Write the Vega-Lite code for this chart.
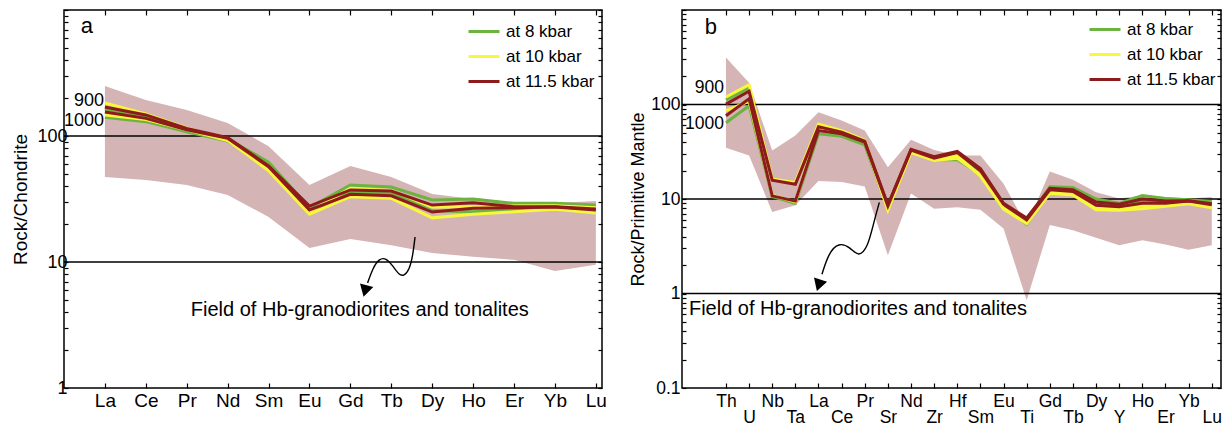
{
  "$schema": "https://vega.github.io/schema/vega-lite/v6.json",
  "padding": {"left": 11, "top": 0, "right": 0, "bottom": 0},
  "spacing": 21,
  "config": {
    "font": "Liberation Sans",
    "view": {"stroke": "#000", "strokeWidth": 1.5},
    "axis": {"domain": false, "grid": false, "labelColor": "#000", "tickColor": "#000", "tickWidth": 1.2, "labelFont": "Liberation Sans", "titleFont": "Liberation Sans", "titleFontWeight": "normal", "titleColor": "#000", "labelOverlap": false},
    "legend": {"labelFont": "Liberation Sans"}
  },
  "datasets": {
    "fieldA": [
      {"pos": 1, "el": "La", "lo": 47.3, "hi": 249},
      {"pos": 2, "el": "Ce", "lo": 44.7, "hi": 193},
      {"pos": 3, "el": "Pr", "lo": 40.8, "hi": 161},
      {"pos": 4, "el": "Nd", "lo": 34.0, "hi": 127},
      {"pos": 5, "el": "Sm", "lo": 22.8, "hi": 83},
      {"pos": 6, "el": "Eu", "lo": 12.9, "hi": 40.8},
      {"pos": 7, "el": "Gd", "lo": 15.2, "hi": 57.8},
      {"pos": 8, "el": "Tb", "lo": 13.6, "hi": 47.3},
      {"pos": 9, "el": "Dy", "lo": 11.8, "hi": 34.7},
      {"pos": 10, "el": "Ho", "lo": 11.0, "hi": 31.6},
      {"pos": 11, "el": "Er", "lo": 10.4, "hi": 29.4},
      {"pos": 12, "el": "Yb", "lo": 8.5, "hi": 29.4},
      {"pos": 13, "el": "Lu", "lo": 9.5, "hi": 30.5}
    ],
    "linesA": [
      {"pos": 1, "p": "at 8 kbar", "t": "900", "v": 164}, {"pos": 2, "p": "at 8 kbar", "t": "900", "v": 143}, {"pos": 3, "p": "at 8 kbar", "t": "900", "v": 113}, {"pos": 4, "p": "at 8 kbar", "t": "900", "v": 95}, {"pos": 5, "p": "at 8 kbar", "t": "900", "v": 62}, {"pos": 6, "p": "at 8 kbar", "t": "900", "v": 27}, {"pos": 7, "p": "at 8 kbar", "t": "900", "v": 40.8}, {"pos": 8, "p": "at 8 kbar", "t": "900", "v": 39.4}, {"pos": 9, "p": "at 8 kbar", "t": "900", "v": 31.1}, {"pos": 10, "p": "at 8 kbar", "t": "900", "v": 31.6}, {"pos": 11, "p": "at 8 kbar", "t": "900", "v": 29.2}, {"pos": 12, "p": "at 8 kbar", "t": "900", "v": 29.2}, {"pos": 13, "p": "at 8 kbar", "t": "900", "v": 28.3},
      {"pos": 1, "p": "at 8 kbar", "t": "1000", "v": 141}, {"pos": 2, "p": "at 8 kbar", "t": "1000", "v": 130}, {"pos": 3, "p": "at 8 kbar", "t": "1000", "v": 108}, {"pos": 4, "p": "at 8 kbar", "t": "1000", "v": 91}, {"pos": 5, "p": "at 8 kbar", "t": "1000", "v": 60}, {"pos": 6, "p": "at 8 kbar", "t": "1000", "v": 25}, {"pos": 7, "p": "at 8 kbar", "t": "1000", "v": 35.9}, {"pos": 8, "p": "at 8 kbar", "t": "1000", "v": 35.3}, {"pos": 9, "p": "at 8 kbar", "t": "1000", "v": 25.5}, {"pos": 10, "p": "at 8 kbar", "t": "1000", "v": 25.1}, {"pos": 11, "p": "at 8 kbar", "t": "1000", "v": 26}, {"pos": 12, "p": "at 8 kbar", "t": "1000", "v": 27}, {"pos": 13, "p": "at 8 kbar", "t": "1000", "v": 26.5},
      {"pos": 1, "p": "at 10 kbar", "t": "900", "v": 183}, {"pos": 2, "p": "at 10 kbar", "t": "900", "v": 150}, {"pos": 3, "p": "at 10 kbar", "t": "900", "v": 116}, {"pos": 4, "p": "at 10 kbar", "t": "900", "v": 93}, {"pos": 5, "p": "at 10 kbar", "t": "900", "v": 53}, {"pos": 6, "p": "at 10 kbar", "t": "900", "v": 24}, {"pos": 7, "p": "at 10 kbar", "t": "900", "v": 33}, {"pos": 8, "p": "at 10 kbar", "t": "900", "v": 32}, {"pos": 9, "p": "at 10 kbar", "t": "900", "v": 22.4}, {"pos": 10, "p": "at 10 kbar", "t": "900", "v": 23.9}, {"pos": 11, "p": "at 10 kbar", "t": "900", "v": 25}, {"pos": 12, "p": "at 10 kbar", "t": "900", "v": 26.2}, {"pos": 13, "p": "at 10 kbar", "t": "900", "v": 24.5},
      {"pos": 1, "p": "at 10 kbar", "t": "1000", "v": 147}, {"pos": 2, "p": "at 10 kbar", "t": "1000", "v": 135}, {"pos": 3, "p": "at 10 kbar", "t": "1000", "v": 112}, {"pos": 4, "p": "at 10 kbar", "t": "1000", "v": 92}, {"pos": 5, "p": "at 10 kbar", "t": "1000", "v": 55}, {"pos": 6, "p": "at 10 kbar", "t": "1000", "v": 25}, {"pos": 7, "p": "at 10 kbar", "t": "1000", "v": 38.5}, {"pos": 8, "p": "at 10 kbar", "t": "1000", "v": 37}, {"pos": 9, "p": "at 10 kbar", "t": "1000", "v": 27.3}, {"pos": 10, "p": "at 10 kbar", "t": "1000", "v": 27.5}, {"pos": 11, "p": "at 10 kbar", "t": "1000", "v": 27.8}, {"pos": 12, "p": "at 10 kbar", "t": "1000", "v": 28}, {"pos": 13, "p": "at 10 kbar", "t": "1000", "v": 27},
      {"pos": 1, "p": "at 11.5 kbar", "t": "900", "v": 170}, {"pos": 2, "p": "at 11.5 kbar", "t": "900", "v": 147}, {"pos": 3, "p": "at 11.5 kbar", "t": "900", "v": 115}, {"pos": 4, "p": "at 11.5 kbar", "t": "900", "v": 97}, {"pos": 5, "p": "at 11.5 kbar", "t": "900", "v": 58}, {"pos": 6, "p": "at 11.5 kbar", "t": "900", "v": 27.8}, {"pos": 7, "p": "at 11.5 kbar", "t": "900", "v": 37.3}, {"pos": 8, "p": "at 11.5 kbar", "t": "900", "v": 36.6}, {"pos": 9, "p": "at 11.5 kbar", "t": "900", "v": 28.3}, {"pos": 10, "p": "at 11.5 kbar", "t": "900", "v": 29.5}, {"pos": 11, "p": "at 11.5 kbar", "t": "900", "v": 27.5}, {"pos": 12, "p": "at 11.5 kbar", "t": "900", "v": 27.5}, {"pos": 13, "p": "at 11.5 kbar", "t": "900", "v": 26.3},
      {"pos": 1, "p": "at 11.5 kbar", "t": "1000", "v": 155}, {"pos": 2, "p": "at 11.5 kbar", "t": "1000", "v": 138}, {"pos": 3, "p": "at 11.5 kbar", "t": "1000", "v": 112}, {"pos": 4, "p": "at 11.5 kbar", "t": "1000", "v": 96}, {"pos": 5, "p": "at 11.5 kbar", "t": "1000", "v": 57}, {"pos": 6, "p": "at 11.5 kbar", "t": "1000", "v": 25.9}, {"pos": 7, "p": "at 11.5 kbar", "t": "1000", "v": 34.5}, {"pos": 8, "p": "at 11.5 kbar", "t": "1000", "v": 33.5}, {"pos": 9, "p": "at 11.5 kbar", "t": "1000", "v": 24.9}, {"pos": 10, "p": "at 11.5 kbar", "t": "1000", "v": 26.7}, {"pos": 11, "p": "at 11.5 kbar", "t": "1000", "v": 27}, {"pos": 12, "p": "at 11.5 kbar", "t": "1000", "v": 27.3}, {"pos": 13, "p": "at 11.5 kbar", "t": "1000", "v": 25.9}
    ],
    "fieldB": [
      {"pos": 2, "el": "Th", "lo": 34.8, "hi": 315},
      {"pos": 3, "el": "U", "lo": 28.9, "hi": 170},
      {"pos": 4, "el": "Nb", "lo": 7.3, "hi": 32.6},
      {"pos": 5, "el": "Ta", "lo": 8.6, "hi": 47},
      {"pos": 6, "el": "La", "lo": 15.5, "hi": 82.8},
      {"pos": 7, "el": "Ce", "lo": 15.1, "hi": 67.6},
      {"pos": 8, "el": "Pr", "lo": 13.6, "hi": 53},
      {"pos": 9, "el": "Sr", "lo": 2.54, "hi": 21.7},
      {"pos": 10, "el": "Nd", "lo": 11.4, "hi": 42.3},
      {"pos": 11, "el": "Zr", "lo": 7.9, "hi": 33},
      {"pos": 12, "el": "Hf", "lo": 8.2, "hi": 28.9},
      {"pos": 13, "el": "Sm", "lo": 7.7, "hi": 28.9},
      {"pos": 14, "el": "Eu", "lo": 4.86, "hi": 14.5},
      {"pos": 15, "el": "Ti", "lo": 0.85, "hi": 5.2},
      {"pos": 16, "el": "Gd", "lo": 5.3, "hi": 19.6},
      {"pos": 17, "el": "Tb", "lo": 4.66, "hi": 16},
      {"pos": 18, "el": "Dy", "lo": 3.9, "hi": 11.8},
      {"pos": 19, "el": "Y", "lo": 3.24, "hi": 10.1},
      {"pos": 20, "el": "Ho", "lo": 3.65, "hi": 10.9},
      {"pos": 21, "el": "Er", "lo": 3.3, "hi": 10.5},
      {"pos": 22, "el": "Yb", "lo": 2.9, "hi": 10.1},
      {"pos": 23, "el": "Lu", "lo": 3.24, "hi": 10.5}
    ],
    "linesB": [
      {"pos": 2, "p": "at 8 kbar", "t": "900", "v": 112}, {"pos": 3, "p": "at 8 kbar", "t": "900", "v": 150}, {"pos": 4, "p": "at 8 kbar", "t": "900", "v": 16}, {"pos": 5, "p": "at 8 kbar", "t": "900", "v": 14.6}, {"pos": 6, "p": "at 8 kbar", "t": "900", "v": 55}, {"pos": 7, "p": "at 8 kbar", "t": "900", "v": 48}, {"pos": 8, "p": "at 8 kbar", "t": "900", "v": 39}, {"pos": 9, "p": "at 8 kbar", "t": "900", "v": 8.4}, {"pos": 10, "p": "at 8 kbar", "t": "900", "v": 33}, {"pos": 11, "p": "at 8 kbar", "t": "900", "v": 27}, {"pos": 12, "p": "at 8 kbar", "t": "900", "v": 30}, {"pos": 13, "p": "at 8 kbar", "t": "900", "v": 19}, {"pos": 14, "p": "at 8 kbar", "t": "900", "v": 8.4}, {"pos": 15, "p": "at 8 kbar", "t": "900", "v": 5.8}, {"pos": 16, "p": "at 8 kbar", "t": "900", "v": 13.5}, {"pos": 17, "p": "at 8 kbar", "t": "900", "v": 13.2}, {"pos": 18, "p": "at 8 kbar", "t": "900", "v": 10.0}, {"pos": 19, "p": "at 8 kbar", "t": "900", "v": 9.0}, {"pos": 20, "p": "at 8 kbar", "t": "900", "v": 10.9}, {"pos": 21, "p": "at 8 kbar", "t": "900", "v": 10.1}, {"pos": 22, "p": "at 8 kbar", "t": "900", "v": 9.8}, {"pos": 23, "p": "at 8 kbar", "t": "900", "v": 9.4},
      {"pos": 2, "p": "at 8 kbar", "t": "1000", "v": 64}, {"pos": 3, "p": "at 8 kbar", "t": "1000", "v": 97}, {"pos": 4, "p": "at 8 kbar", "t": "1000", "v": 10.6}, {"pos": 5, "p": "at 8 kbar", "t": "1000", "v": 9.0}, {"pos": 6, "p": "at 8 kbar", "t": "1000", "v": 49}, {"pos": 7, "p": "at 8 kbar", "t": "1000", "v": 46}, {"pos": 8, "p": "at 8 kbar", "t": "1000", "v": 37.5}, {"pos": 9, "p": "at 8 kbar", "t": "1000", "v": 8.0}, {"pos": 10, "p": "at 8 kbar", "t": "1000", "v": 32}, {"pos": 11, "p": "at 8 kbar", "t": "1000", "v": 26}, {"pos": 12, "p": "at 8 kbar", "t": "1000", "v": 26}, {"pos": 13, "p": "at 8 kbar", "t": "1000", "v": 18.5}, {"pos": 14, "p": "at 8 kbar", "t": "1000", "v": 8.5}, {"pos": 15, "p": "at 8 kbar", "t": "1000", "v": 5.4}, {"pos": 16, "p": "at 8 kbar", "t": "1000", "v": 13}, {"pos": 17, "p": "at 8 kbar", "t": "1000", "v": 12.5}, {"pos": 18, "p": "at 8 kbar", "t": "1000", "v": 9.2}, {"pos": 19, "p": "at 8 kbar", "t": "1000", "v": 8.5}, {"pos": 20, "p": "at 8 kbar", "t": "1000", "v": 9.5}, {"pos": 21, "p": "at 8 kbar", "t": "1000", "v": 9.5}, {"pos": 22, "p": "at 8 kbar", "t": "1000", "v": 9.5}, {"pos": 23, "p": "at 8 kbar", "t": "1000", "v": 9.0},
      {"pos": 2, "p": "at 10 kbar", "t": "900", "v": 120}, {"pos": 3, "p": "at 10 kbar", "t": "900", "v": 162}, {"pos": 4, "p": "at 10 kbar", "t": "900", "v": 16.3}, {"pos": 5, "p": "at 10 kbar", "t": "900", "v": 15}, {"pos": 6, "p": "at 10 kbar", "t": "900", "v": 62}, {"pos": 7, "p": "at 10 kbar", "t": "900", "v": 53}, {"pos": 8, "p": "at 10 kbar", "t": "900", "v": 42}, {"pos": 9, "p": "at 10 kbar", "t": "900", "v": 7.8}, {"pos": 10, "p": "at 10 kbar", "t": "900", "v": 32}, {"pos": 11, "p": "at 10 kbar", "t": "900", "v": 26}, {"pos": 12, "p": "at 10 kbar", "t": "900", "v": 29}, {"pos": 13, "p": "at 10 kbar", "t": "900", "v": 17.5}, {"pos": 14, "p": "at 10 kbar", "t": "900", "v": 7.8}, {"pos": 15, "p": "at 10 kbar", "t": "900", "v": 5.5}, {"pos": 16, "p": "at 10 kbar", "t": "900", "v": 11.5}, {"pos": 17, "p": "at 10 kbar", "t": "900", "v": 11}, {"pos": 18, "p": "at 10 kbar", "t": "900", "v": 7.7}, {"pos": 19, "p": "at 10 kbar", "t": "900", "v": 7.6}, {"pos": 20, "p": "at 10 kbar", "t": "900", "v": 7.9}, {"pos": 21, "p": "at 10 kbar", "t": "900", "v": 8.4}, {"pos": 22, "p": "at 10 kbar", "t": "900", "v": 8.9}, {"pos": 23, "p": "at 10 kbar", "t": "900", "v": 8.1},
      {"pos": 2, "p": "at 10 kbar", "t": "1000", "v": 86}, {"pos": 3, "p": "at 10 kbar", "t": "1000", "v": 108}, {"pos": 4, "p": "at 10 kbar", "t": "1000", "v": 11}, {"pos": 5, "p": "at 10 kbar", "t": "1000", "v": 9.3}, {"pos": 6, "p": "at 10 kbar", "t": "1000", "v": 57}, {"pos": 7, "p": "at 10 kbar", "t": "1000", "v": 50}, {"pos": 8, "p": "at 10 kbar", "t": "1000", "v": 41}, {"pos": 9, "p": "at 10 kbar", "t": "1000", "v": 7.6}, {"pos": 10, "p": "at 10 kbar", "t": "1000", "v": 31}, {"pos": 11, "p": "at 10 kbar", "t": "1000", "v": 25.5}, {"pos": 12, "p": "at 10 kbar", "t": "1000", "v": 27}, {"pos": 13, "p": "at 10 kbar", "t": "1000", "v": 18}, {"pos": 14, "p": "at 10 kbar", "t": "1000", "v": 8.0}, {"pos": 15, "p": "at 10 kbar", "t": "1000", "v": 5.6}, {"pos": 16, "p": "at 10 kbar", "t": "1000", "v": 12}, {"pos": 17, "p": "at 10 kbar", "t": "1000", "v": 11.5}, {"pos": 18, "p": "at 10 kbar", "t": "1000", "v": 8.0}, {"pos": 19, "p": "at 10 kbar", "t": "1000", "v": 7.8}, {"pos": 20, "p": "at 10 kbar", "t": "1000", "v": 8.5}, {"pos": 21, "p": "at 10 kbar", "t": "1000", "v": 8.8}, {"pos": 22, "p": "at 10 kbar", "t": "1000", "v": 9.3}, {"pos": 23, "p": "at 10 kbar", "t": "1000", "v": 8.5},
      {"pos": 2, "p": "at 11.5 kbar", "t": "900", "v": 101}, {"pos": 3, "p": "at 11.5 kbar", "t": "900", "v": 138}, {"pos": 4, "p": "at 11.5 kbar", "t": "900", "v": 15.8}, {"pos": 5, "p": "at 11.5 kbar", "t": "900", "v": 14.3}, {"pos": 6, "p": "at 11.5 kbar", "t": "900", "v": 58}, {"pos": 7, "p": "at 11.5 kbar", "t": "900", "v": 51}, {"pos": 8, "p": "at 11.5 kbar", "t": "900", "v": 41}, {"pos": 9, "p": "at 11.5 kbar", "t": "900", "v": 8.7}, {"pos": 10, "p": "at 11.5 kbar", "t": "900", "v": 33.5}, {"pos": 11, "p": "at 11.5 kbar", "t": "900", "v": 28}, {"pos": 12, "p": "at 11.5 kbar", "t": "900", "v": 32}, {"pos": 13, "p": "at 11.5 kbar", "t": "900", "v": 21}, {"pos": 14, "p": "at 11.5 kbar", "t": "900", "v": 9.0}, {"pos": 15, "p": "at 11.5 kbar", "t": "900", "v": 6.3}, {"pos": 16, "p": "at 11.5 kbar", "t": "900", "v": 13}, {"pos": 17, "p": "at 11.5 kbar", "t": "900", "v": 12.5}, {"pos": 18, "p": "at 11.5 kbar", "t": "900", "v": 9.3}, {"pos": 19, "p": "at 11.5 kbar", "t": "900", "v": 8.8}, {"pos": 20, "p": "at 11.5 kbar", "t": "900", "v": 10}, {"pos": 21, "p": "at 11.5 kbar", "t": "900", "v": 9.5}, {"pos": 22, "p": "at 11.5 kbar", "t": "900", "v": 9.6}, {"pos": 23, "p": "at 11.5 kbar", "t": "900", "v": 8.9},
      {"pos": 2, "p": "at 11.5 kbar", "t": "1000", "v": 76}, {"pos": 3, "p": "at 11.5 kbar", "t": "1000", "v": 115}, {"pos": 4, "p": "at 11.5 kbar", "t": "1000", "v": 10.8}, {"pos": 5, "p": "at 11.5 kbar", "t": "1000", "v": 9.5}, {"pos": 6, "p": "at 11.5 kbar", "t": "1000", "v": 53}, {"pos": 7, "p": "at 11.5 kbar", "t": "1000", "v": 49}, {"pos": 8, "p": "at 11.5 kbar", "t": "1000", "v": 40}, {"pos": 9, "p": "at 11.5 kbar", "t": "1000", "v": 8.4}, {"pos": 10, "p": "at 11.5 kbar", "t": "1000", "v": 33}, {"pos": 11, "p": "at 11.5 kbar", "t": "1000", "v": 27}, {"pos": 12, "p": "at 11.5 kbar", "t": "1000", "v": 31}, {"pos": 13, "p": "at 11.5 kbar", "t": "1000", "v": 20}, {"pos": 14, "p": "at 11.5 kbar", "t": "1000", "v": 8.8}, {"pos": 15, "p": "at 11.5 kbar", "t": "1000", "v": 6.0}, {"pos": 16, "p": "at 11.5 kbar", "t": "1000", "v": 12.5}, {"pos": 17, "p": "at 11.5 kbar", "t": "1000", "v": 12}, {"pos": 18, "p": "at 11.5 kbar", "t": "1000", "v": 8.6}, {"pos": 19, "p": "at 11.5 kbar", "t": "1000", "v": 8.3}, {"pos": 20, "p": "at 11.5 kbar", "t": "1000", "v": 9.0}, {"pos": 21, "p": "at 11.5 kbar", "t": "1000", "v": 9.0}, {"pos": 22, "p": "at 11.5 kbar", "t": "1000", "v": 9.5}, {"pos": 23, "p": "at 11.5 kbar", "t": "1000", "v": 8.7}
    ],
    "arrowA": [
      {"o": 1, "x": 8.58, "y": 15.8}, {"o": 2, "x": 8.53, "y": 11.4}, {"o": 3, "x": 8.44, "y": 8.64}, {"o": 4, "x": 8.31, "y": 7.74}, {"o": 5, "x": 8.19, "y": 7.88}, {"o": 6, "x": 8.04, "y": 9.29}, {"o": 7, "x": 7.87, "y": 10.8}, {"o": 8, "x": 7.70, "y": 10.6}, {"o": 9, "x": 7.55, "y": 8.96}, {"o": 10, "x": 7.42, "y": 6.8}
    ],
    "arrowB": [
      {"o": 1, "x": 8.63, "y": 9.2}, {"o": 2, "x": 8.38, "y": 5.53}, {"o": 3, "x": 8.13, "y": 3.08}, {"o": 4, "x": 7.73, "y": 2.42}, {"o": 5, "x": 7.38, "y": 3.08}, {"o": 6, "x": 6.87, "y": 3.48}, {"o": 7, "x": 6.44, "y": 2.67}, {"o": 8, "x": 6.15, "y": 1.6}
    ]
  },
  "hconcat": [
    {
      "width": 538,
      "height": 378,
      "layer": [
        {
          "data": {"name": "fieldA"},
          "mark": {"type": "area", "color": "#d5b4b5", "opacity": 1},
          "encoding": {
            "x": {"field": "pos", "type": "quantitative", "scale": {"domain": [0, 13.15], "nice": false, "zero": false},
                  "axis": {"orient": "bottom", "title": null, "values": [1,2,3,4,5,6,7,8,9,10,11,12,13], "labelExpr": "['','La','Ce','Pr','Nd','Sm','Eu','Gd','Tb','Dy','Ho','Er','Yb','Lu'][datum.value]", "tickSize": -5, "labelPadding": 8, "labelFontSize": 19}},
            "y": {"field": "hi", "type": "quantitative", "scale": {"type": "log", "domain": [1, 1000], "nice": false},
                  "axis": {"orient": "left", "title": "Rock/Chondrite", "titleFontSize": 19, "titlePadding": 6, "values": [1,2,3,4,5,6,7,8,9,10,20,30,40,50,60,70,80,90,100,200,300,400,500,600,700,800,900,1000], "labelExpr": "indexof([1,10,100], datum.value) >= 0 ? datum.value + '' : ''", "tickSize": -4, "labelPadding": 1, "labelFontSize": 18}},
            "y2": {"field": "lo"}
          }
        },
        {
          "data": {"values": [{"g": 10}, {"g": 100}]},
          "mark": {"type": "rule", "color": "#000", "strokeWidth": 1.5},
          "encoding": {"y": {"field": "g", "type": "quantitative", "scale": {"type": "log"}, "axis": null}}
        },
        {
          "data": {"name": "linesA"},
          "mark": {"type": "line", "strokeWidth": 3},
          "encoding": {
            "x": {"field": "pos", "type": "quantitative", "axis": {"orient": "top", "title": null, "labels": false, "values": [1,2,3,4,5,6,7,8,9,10,11,12,13], "tickSize": -5}},
            "y": {"field": "v", "type": "quantitative", "scale": {"type": "log"}, "axis": {"orient": "right", "title": null, "labels": false, "values": [1,2,3,4,5,6,7,8,9,10,20,30,40,50,60,70,80,90,100,200,300,400,500,600,700,800,900,1000], "tickSize": -4}},
            "color": {"field": "p", "type": "nominal", "scale": {"domain": ["at 8 kbar", "at 10 kbar", "at 11.5 kbar"], "range": ["#6cb33f", "#f7f73c", "#8e1b1b"]},
                      "legend": {"orient": "none", "legendX": 403, "legendY": 4.5, "title": null, "symbolType": "stroke", "symbolStrokeWidth": 3, "symbolSize": 961, "labelFontSize": 17, "labelColor": "#000", "rowPadding": 0, "labelOffset": 5, "padding": 0}},
            "detail": {"field": "t"}
          }
        },
        {
          "data": {"name": "arrowA"},
          "mark": {"type": "line", "color": "#000", "strokeWidth": 1.4, "interpolate": "basis"},
          "encoding": {
            "x": {"field": "x", "type": "quantitative", "axis": null},
            "y": {"field": "y", "type": "quantitative", "scale": {"type": "log"}, "axis": null},
            "order": {"field": "o"}
          }
        },
        {
          "data": {"values": [{"x": 7.36, "y": 5.89}]},
          "mark": {"type": "point", "shape": "triangle-down", "filled": true, "color": "#000", "opacity": 1, "size": 190, "angle": 15},
          "encoding": {
            "x": {"field": "x", "type": "quantitative", "axis": null},
            "y": {"field": "y", "type": "quantitative", "scale": {"type": "log"}, "axis": null}
          }
        },
        {
          "data": {"values": [{"x": 0.56, "y": 746, "label": "a"}]},
          "mark": {"type": "text", "fontSize": 22, "align": "center", "baseline": "middle", "color": "#000"},
          "encoding": {
            "x": {"field": "x", "type": "quantitative", "axis": null},
            "y": {"field": "y", "type": "quantitative", "scale": {"type": "log"}, "axis": null},
            "text": {"field": "label"}
          }
        },
        {
          "data": {"values": [{"x": 0.98, "y": 190, "label": "900"}, {"x": 0.98, "y": 132, "label": "1000"}]},
          "mark": {"type": "text", "fontSize": 18, "align": "right", "baseline": "middle", "color": "#000"},
          "encoding": {
            "x": {"field": "x", "type": "quantitative", "axis": null},
            "y": {"field": "y", "type": "quantitative", "scale": {"type": "log"}, "axis": null},
            "text": {"field": "label"}
          }
        },
        {
          "data": {"values": [{"x": 3.1, "y": 4.16, "label": "Field of Hb-granodiorites and tonalites"}]},
          "mark": {"type": "text", "fontSize": 20, "align": "left", "baseline": "middle", "color": "#000"},
          "encoding": {
            "x": {"field": "x", "type": "quantitative", "axis": null},
            "y": {"field": "y", "type": "quantitative", "scale": {"type": "log"}, "axis": null},
            "text": {"field": "label"}
          }
        }
      ],
      "resolve": {"axis": {"x": "independent", "y": "independent"}}
    },
    {
      "width": 539,
      "height": 378,
      "layer": [
        {
          "data": {"name": "fieldB"},
          "mark": {"type": "area", "color": "#d5b4b5", "opacity": 1},
          "encoding": {
            "x": {"field": "pos", "type": "quantitative", "scale": {"domain": [0.1, 23.4], "nice": false, "zero": false},
                  "axis": {"orient": "bottom", "title": null, "values": [2,3,4,5,6,7,8,9,10,11,12,13,14,15,16,17,18,19,20,21,22,23], "labelExpr": "['','','Th','U','Nb','Ta','La','Ce','Pr','Sr','Nd','Zr','Hf','Sm','Eu','Ti','Gd','Tb','Dy','Y','Ho','Er','Yb','Lu'][datum.value]", "tickSize": -5, "labelPadding": {"condition": {"test": "datum.value % 2 == 1", "value": 25}, "value": 9}, "labelFontSize": 17.5}},
            "y": {"field": "hi", "type": "quantitative", "scale": {"type": "log", "domain": [0.1, 1000], "nice": false},
                  "axis": {"orient": "left", "title": "Rock/Primitive Mantle", "titleFontSize": 18, "titlePadding": 3, "values": [0.1,0.2,0.3,0.4,0.5,0.6,0.7,0.8,0.9,1,2,3,4,5,6,7,8,9,10,20,30,40,50,60,70,80,90,100,200,300,400,500,600,700,800,900,1000], "labelExpr": "indexof([0.1,1,10,100], datum.value) >= 0 ? datum.value + '' : ''", "tickSize": -4, "labelPadding": 6, "labelFontSize": 17.5}},
            "y2": {"field": "lo"}
          }
        },
        {
          "data": {"values": [{"g": 1}, {"g": 10}, {"g": 100}]},
          "mark": {"type": "rule", "color": "#000", "strokeWidth": 1.5},
          "encoding": {"y": {"field": "g", "type": "quantitative", "scale": {"type": "log"}, "axis": null}}
        },
        {
          "data": {"name": "linesB"},
          "mark": {"type": "line", "strokeWidth": 3},
          "encoding": {
            "x": {"field": "pos", "type": "quantitative", "axis": {"orient": "top", "title": null, "labels": false, "values": [2,3,4,5,6,7,8,9,10,11,12,13,14,15,16,17,18,19,20,21,22,23], "tickSize": -5}},
            "y": {"field": "v", "type": "quantitative", "scale": {"type": "log"}, "axis": {"orient": "right", "title": null, "labels": false, "values": [0.1,0.2,0.3,0.4,0.5,0.6,0.7,0.8,0.9,1,2,3,4,5,6,7,8,9,10,20,30,40,50,60,70,80,90,100,200,300,400,500,600,700,800,900,1000], "tickSize": -4}},
            "color": {"field": "p", "type": "nominal", "scale": {"domain": ["at 8 kbar", "at 10 kbar", "at 11.5 kbar"], "range": ["#6cb33f", "#f7f73c", "#8e1b1b"]},
                      "legend": {"orient": "none", "legendX": 406, "legendY": 2.5, "title": null, "symbolType": "stroke", "symbolStrokeWidth": 3, "symbolSize": 961, "labelFontSize": 17, "labelColor": "#000", "rowPadding": 0, "labelOffset": 5, "padding": 0}},
            "detail": {"field": "t"}
          }
        },
        {
          "data": {"name": "arrowB"},
          "mark": {"type": "line", "color": "#000", "strokeWidth": 1.4, "interpolate": "basis"},
          "encoding": {
            "x": {"field": "x", "type": "quantitative", "axis": null},
            "y": {"field": "y", "type": "quantitative", "scale": {"type": "log"}, "axis": null},
            "order": {"field": "o"}
          }
        },
        {
          "data": {"values": [{"x": 6.01, "y": 1.22}]},
          "mark": {"type": "point", "shape": "triangle-down", "filled": true, "color": "#000", "opacity": 1, "size": 190, "angle": 18},
          "encoding": {
            "x": {"field": "x", "type": "quantitative", "axis": null},
            "y": {"field": "y", "type": "quantitative", "scale": {"type": "log"}, "axis": null}
          }
        },
        {
          "data": {"values": [{"x": 1.35, "y": 665, "label": "b"}]},
          "mark": {"type": "text", "fontSize": 22, "align": "center", "baseline": "middle", "color": "#000"},
          "encoding": {
            "x": {"field": "x", "type": "quantitative", "axis": null},
            "y": {"field": "y", "type": "quantitative", "scale": {"type": "log"}, "axis": null},
            "text": {"field": "label"}
          }
        },
        {
          "data": {"values": [{"x": 1.91, "y": 151, "label": "900"}, {"x": 1.91, "y": 62.9, "label": "1000"}]},
          "mark": {"type": "text", "fontSize": 17.5, "align": "right", "baseline": "middle", "color": "#000"},
          "encoding": {
            "x": {"field": "x", "type": "quantitative", "axis": null},
            "y": {"field": "y", "type": "quantitative", "scale": {"type": "log"}, "axis": null},
            "text": {"field": "label"}
          }
        },
        {
          "data": {"values": [{"x": 0.4, "y": 0.683, "label": "Field of Hb-granodiorites and tonalites"}]},
          "mark": {"type": "text", "fontSize": 20, "align": "left", "baseline": "middle", "color": "#000"},
          "encoding": {
            "x": {"field": "x", "type": "quantitative", "axis": null},
            "y": {"field": "y", "type": "quantitative", "scale": {"type": "log"}, "axis": null},
            "text": {"field": "label"}
          }
        }
      ],
      "resolve": {"axis": {"x": "independent", "y": "independent"}}
    }
  ],
  "resolve": {"scale": {"color": "independent"}, "legend": {"color": "independent"}}
}
